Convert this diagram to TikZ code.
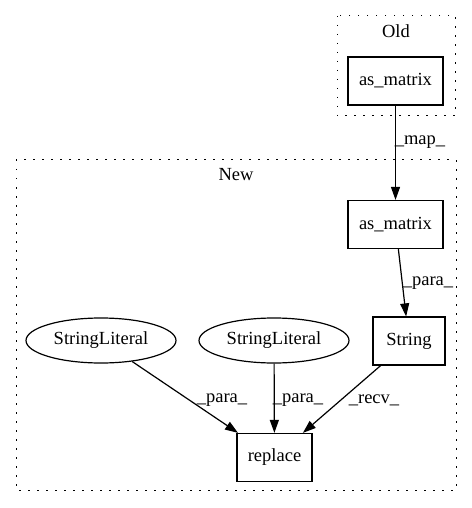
\documentclass[tikz,border=0pt]{standalone}
\usepackage{fontspec}
\setmainfont{Liberation Serif}
\usetikzlibrary{arrows.meta,shapes.geometric}
\tikzset{
  txt/.style={font=\fontsize{18.5bp}{20bp}\selectfont},
  box/.style={txt,draw,line width=1.2bp,rectangle,minimum height=48bp,inner sep=0pt},
  oval/.style={txt,draw,line width=1.2bp,ellipse,minimum width=150bp,minimum height=45bp,inner sep=0pt},
  cluster/.style={draw,line width=1bp,dash pattern=on 1.5bp off 7.5bp},
  edge/.style={line width=1.2bp,-{Triangle[length=13bp,width=9bp]}},
  lbl/.style={txt,inner sep=0pt},
}
\begin{document}
\begin{tikzpicture}[x=1bp,y=-1bp]
\useasboundingbox (0,0) rectangle (472,508);
% clusters
\draw[cluster] (337,16) rectangle (455,116);
\node[lbl] (oldlbl) at (396,31) {Old};
\draw[cluster] (16,160) rectangle (456,490);
\node[lbl] (newlbl) at (236,175) {New};
% nodes
\node[box,minimum width=95bp] (oldm) at (395.5,81) {as\_matrix};
\node[box,minimum width=95bp] (newm) at (395.5,224.5) {as\_matrix};
\node[box,minimum width=72bp] (str) at (409,341) {String};
\node[box,minimum width=75bp] (rep) at (274.5,457.5) {replace};
\node[oval] (sl1) at (101,340.5) {StringLiteral};
\node[oval] (sl2) at (274,340.5) {StringLiteral};
% edges
\draw[edge] (oldm) -- (newm);
\node[lbl] (lmap) at (420,142) {\_map\_};
\draw[edge] (newm) -- (str);
\node[lbl] (lpara1) at (428,283) {\_para\_};
\draw[edge] (sl1) -- (rep);
\node[lbl] (lpara2) at (222,400) {\_para\_};
\draw[edge] (sl2) -- (rep);
\node[lbl] (lpara3) at (298,400) {\_para\_};
\draw[edge] (str) -- (rep);
\node[lbl] (lrecv) at (374,400) {\_recv\_};
\end{tikzpicture}
\end{document}
